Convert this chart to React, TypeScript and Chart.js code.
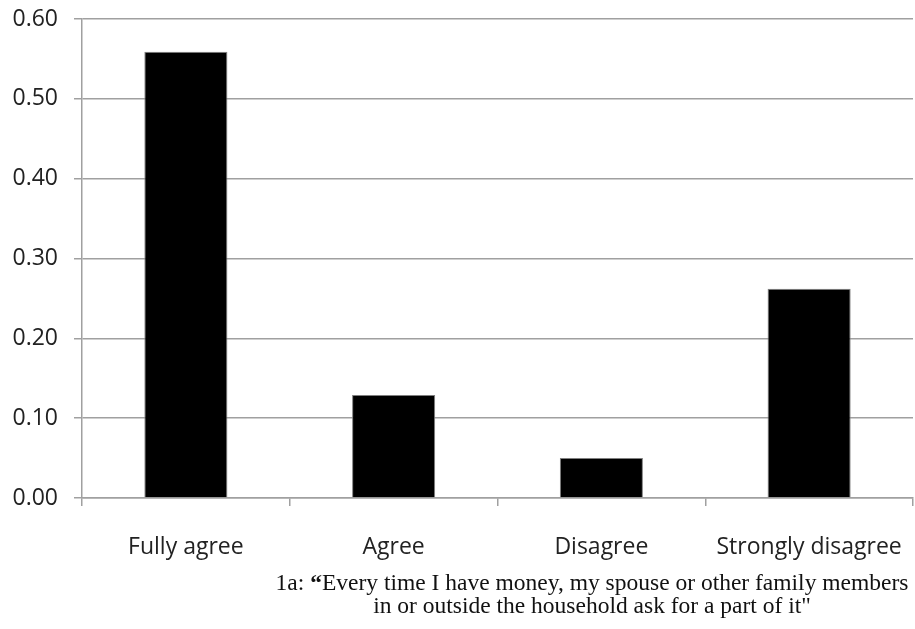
import React, { useEffect, useRef } from "react";
import { Chart, registerables } from "chart.js";

Chart.register(...registerables);

const categories = ["Fully agree", "Agree", "Disagree", "Strongly disagree"];
const values = [0.559, 0.129, 0.05, 0.262];
const yMin = 0;
const yMax = 0.6;
const yStep = 0.1;
const captionLines = [
  "1a: \u201CEvery time I have money, my spouse or other family members",
  "in or outside the household ask for a part of it\"",
];

export default function App() {
  const ref = useRef<HTMLCanvasElement>(null);
  useEffect(() => {
    document.body.style.margin = "0";
    const ctx = ref.current!;
    const chart = new Chart(ctx, {
      type: "bar",
      data: {
        labels: categories,
        datasets: [
          {
            data: values,
            backgroundColor: "#000000",
            borderColor: "#7f7f7f",
            borderWidth: 1,
            barPercentage: 0.4,
            categoryPercentage: 1,
          },
        ],
      },
      options: {
        responsive: false,
        animation: false,
        layout: { padding: { top: 19, right: 2, left: 0, bottom: 0 } },
        plugins: { legend: { display: false }, tooltip: { enabled: false } },
        scales: {
          x: {
            grid: {
              offset: true,
              drawOnChartArea: false,
              drawTicks: true,
              tickLength: 8,
              color: "#a0a0a0",
              lineWidth: 1.5,
            },
            border: { color: "#a0a0a0", width: 1.5 },
            ticks: {
              color: "#222222",
              padding: 28,
              maxRotation: 0,
              font: { family: "Open Sans", size: 23 },
            },
            afterFit: (s: any) => {
              s.height = 131;
              s.paddingLeft = 0;
              s.paddingRight = 0;
            },
          },
          y: {
            min: yMin,
            max: yMax,
            ticks: {
              stepSize: yStep,
              color: "#222222",
              padding: 16,
              font: { family: "Open Sans", size: 23 },
              callback: (v: any) => Number(v).toFixed(2),
            },
            grid: { color: "#a0a0a0", lineWidth: 1.5, tickLength: 8 },
            border: { color: "#a0a0a0", width: 1.5 },
            afterFit: (s: any) => {
              s.width = 82;
              s.paddingTop = 0;
              s.paddingBottom = 0;
            },
          },
        },
      },
    });
    return () => chart.destroy();
  }, []);
  return (
    <div style={{ position: "relative", width: 915, height: 629, background: "#fff" }}>
      <canvas ref={ref} width={915} height={629} style={{ display: "block" }} />
      <div
        style={{
          position: "absolute",
          left: 232,
          width: 720,
          top: 571,
          textAlign: "center",
          fontFamily: "'Liberation Serif', serif",
          fontSize: 23.5,
          lineHeight: "23px",
          color: "#111",
        }}
      >
        {captionLines.map((l, i) => (
          <div key={i} style={{ whiteSpace: "nowrap" }}>
            {i === 0 ? (
              <>
                1a: <b>{"\u201C"}</b>
                {l.slice(5)}
              </>
            ) : (
              l
            )}
          </div>
        ))}
      </div>
    </div>
  );
}
